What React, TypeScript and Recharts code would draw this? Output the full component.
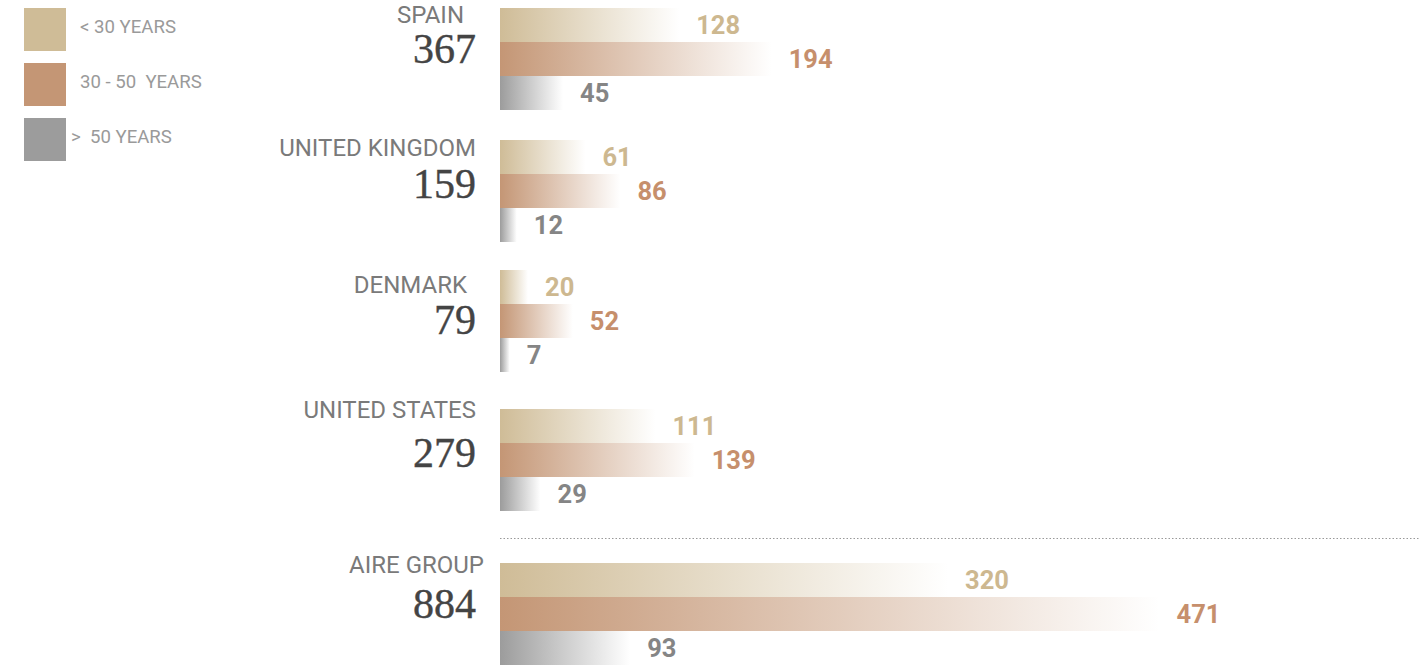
import { Bar, BarChart, LabelList, XAxis, YAxis } from "recharts";

const countries = ["SPAIN", "UNITED KINGDOM", "DENMARK", "UNITED STATES", "AIRE GROUP"];
const under30 = [128, 61, 20, 111, 320];
const from30to50 = [194, 86, 52, 139, 471];
const over50 = [45, 12, 7, 29, 93];
const legendLabels = ["< 30 YEARS", "30 - 50  YEARS", ">  50 YEARS"];

const TAN = "#cfbc97";
const COPPER = "#c49675";
const GREY = "#9c9c9c";
const series = [
  { key: "young", color: TAN, label: "#cdb890" },
  { key: "mid", color: COPPER, label: "#c68f6c" },
  { key: "old", color: GREY, label: "#858585" },
];

// layout (px) for each group block
const groupTop = [8, 140, 270, 409, 563];
const nameRight = [464, 476, 467, 476, 484];
const nameBase = [23, 156, 293, 418, 573];
const totalBase = [63, 198, 334, 467, 618];
const legendText = [{ x: 80, y: 33 }, { x: 80, y: 88 }, { x: 71, y: 143 }];
const legendBoxY = [8, 63, 118];

const BAR_LEFT = 500;
const CHART_W = 920;
const BAR_H = 34;
const X_MAX = 657;

function Group({ i }: { i: number }) {
  const row = [{ name: countries[i], young: under30[i], mid: from30to50[i], old: over50[i] }];
  return (
    <div style={{ position: "absolute", left: BAR_LEFT, top: groupTop[i] }}>
      <BarChart
        width={CHART_W}
        height={BAR_H * 3}
        data={row}
        layout="vertical"
        margin={{ top: 0, right: 0, bottom: 0, left: 0 }}
        barGap={0}
        barCategoryGap={0}
      >
        <defs>
          {series.map((s) => (
            <linearGradient key={s.key} id={`g${i}-${s.key}`} x1="0" y1="0" x2="1" y2="0">
              <stop offset="0%" stopColor={s.color} stopOpacity={1} />
              <stop offset="100%" stopColor={s.color} stopOpacity={0} />
            </linearGradient>
          ))}
        </defs>
        <XAxis type="number" hide domain={[0, X_MAX]} />
        <YAxis type="category" dataKey="name" hide />
        {series.map((s) => (
          <Bar key={s.key} dataKey={s.key} fill={`url(#g${i}-${s.key})`} isAnimationActive={false}>
            <LabelList
              dataKey={s.key}
              position="right"
              offset={17}
              fill={s.label}
              fontSize={25.5}
              fontWeight={700}
              fontFamily="Roboto"
            />
          </Bar>
        ))}
      </BarChart>
    </div>
  );
}

export default function App() {
  return (
    <div style={{ position: "relative", width: 1427, height: 666, background: "#fff", overflow: "hidden" }}>
      <style>{`body{margin:0}`}</style>
      <svg width={1427} height={666} style={{ position: "absolute", left: 0, top: 0 }}>
        {legendLabels.map((l, k) => (
          <g key={l}>
            <rect x={24} y={legendBoxY[k]} width={42} height={43} fill={series[k].color} />
            <text x={legendText[k].x} y={legendText[k].y} fontFamily="Roboto" fontSize={18.6} fill="#9a9a9a" style={{ whiteSpace: "pre" }}>
              {l}
            </text>
          </g>
        ))}
        {countries.map((c, i) => (
          <g key={c}>
            <text x={nameRight[i]} y={nameBase[i]} textAnchor="end" fontFamily="Roboto" fontSize={24} fill="#7a7a7a">
              {c}
            </text>
            <text x={476} y={totalBase[i]} textAnchor="end" fontFamily="Liberation Serif" fontSize={42} fill="#444" stroke="#444" strokeWidth={0.4}>
              {under30[i] + from30to50[i] + over50[i]}
            </text>
          </g>
        ))}
        <line x1={BAR_LEFT} x2={1420} y1={538.5} y2={538.5} stroke="#999" strokeDasharray="1.5 2" />
      </svg>
      {countries.map((c, i) => (
        <Group key={c} i={i} />
      ))}
    </div>
  );
}
